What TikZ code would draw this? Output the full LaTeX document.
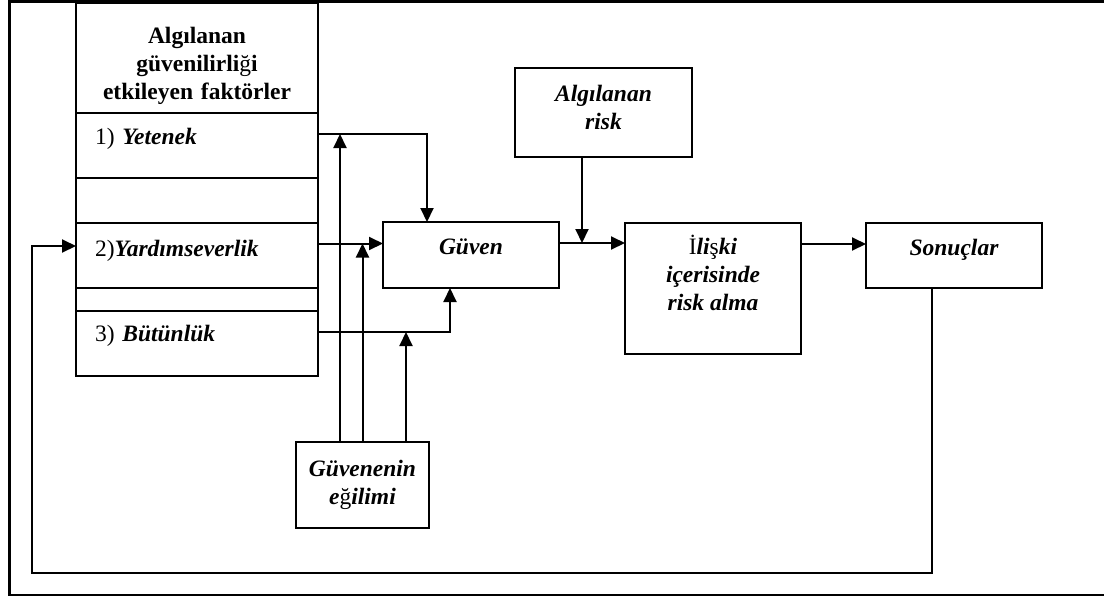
\documentclass[tikz,border=0pt]{standalone}
\usepackage{fontspec}
\setmainfont{Liberation Serif}
\usetikzlibrary{arrows.meta,positioning}

\begin{document}
\begin{tikzpicture}[x=1pt, y=-1pt, line width=2pt,
	font=\fontsize{23.5}{28}\selectfont,
	box/.style={draw, rectangle, outer sep=0pt, anchor=north west, align=center, font=\fontsize{23.5}{28}\selectfont\bfseries\itshape},
	row/.style={draw, rectangle, outer sep=0pt, minimum width=242pt, inner xsep=19pt, text width=204pt, align=left},
	arr/.style={-{Triangle[length=14pt,width=13pt]}}]
	\useasboundingbox (0,0) rectangle (1104,598);
	\draw[line width=2.5pt] (1104,1.5) -- (9.5,1.5) -- (9.5,595) -- (1104,595);
	% left column
	\node[row, anchor=north west, minimum height=110pt, align=center, inner ysep=2pt, text height=32pt, font=\fontsize{23.5}{28}\selectfont\bfseries] (hdr) at (76,3)
		{Algılanan\\güvenilirli\textmd{ğ}i\\etkileyen faktörler};
	\node[row, below=0pt of hdr, minimum height=65pt, text depth=19pt] (yet) {1) \textbf{\textit{Yetenek}}};
	\node[row, below=0pt of yet, minimum height=45pt] (bl1) {};
	\node[row, below=0pt of bl1, minimum height=65pt, text depth=14pt] (yard) {2)\textbf{\textit{Yardımseverlik}}};
	\node[row, below=0pt of yard, minimum height=23pt] (bl2) {};
	\node[row, below=0pt of bl2, minimum height=65pt, text depth=21pt] (but) {3) \textbf{\textit{Bütünlük}}};
	% boxes
	\node[box, minimum width=176pt, minimum height=66pt, text depth=16pt] (gv) at (383,222) {Güven};
	\node[box, minimum width=177pt, minimum height=89pt, text depth=10pt] (risk) at (515,68) {Algılanan\\risk};
	\node[box, minimum width=176pt, minimum height=131pt, text depth=31pt] (il) at (625,223)
		{\textnormal{İ}li\textnormal{ş}ki\\içerisinde\\risk alma};
	\node[box, minimum width=176pt, minimum height=65pt, text depth=16pt] (sn) at (866,223) {Sonuçlar};
	\node[box, minimum width=133pt, minimum height=86pt] (gg) at (296,442) {Güvenenin\\e\textnormal{ğ}ilimi};
	% connectors
	\coordinate (ty) at ([yshift=11.5pt]yet.east);
	\coordinate (td) at ([yshift=12pt]yard.east);
	\coordinate (tb) at ([yshift=11.5pt]but.east);
	\coordinate (tg) at ([yshift=12pt]gv.east);
	\coordinate (ts) at ([yshift=11.5pt]sn.west);
	\coordinate (g1) at ([xshift=-22.5pt]gg.north);
	\coordinate (g3) at ([xshift=43.5pt]gg.north);
	\coordinate (rk) at ([xshift=-21.5pt]risk.south);
	\coordinate (fb) at (32,573);
	\draw[arr] (ty) -| ([xshift=-44pt]gv.north);
	\draw[arr] (td) -- (td -| gv.west);
	\draw[arr] (tb) -| ([xshift=-21pt]gv.south);
	\draw[arr] (g1) -- (g1 |- ty);
	\draw[arr] (gg.north) -- (gg.north |- td);
	\draw[arr] (g3) -- (g3 |- tb);
	\draw[arr] (rk) -- (rk |- tg);
	\draw[arr] (tg) -- (tg -| il.west);
	\draw[arr] (ts -| il.east) -- (ts);
	\draw[arr] ([xshift=-22pt]sn.south) |- (fb) |- ([yshift=9.5pt]yard.west);
\end{tikzpicture}
\end{document}
